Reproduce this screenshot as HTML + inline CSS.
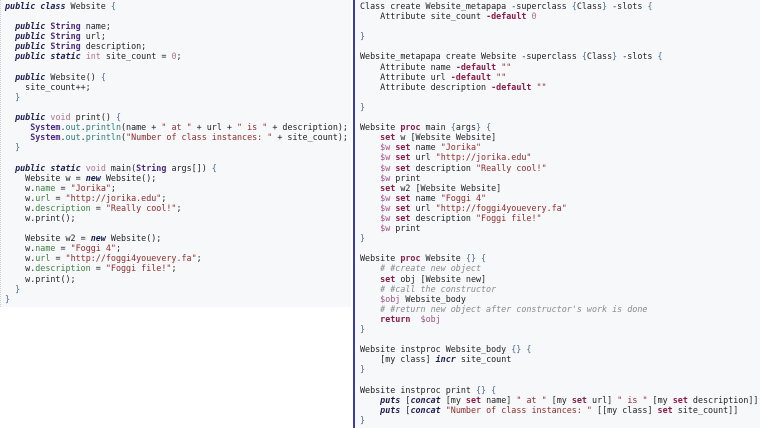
<!DOCTYPE html>
<html><head><meta charset="utf-8"><style>
html,body{margin:0;padding:0;width:760px;height:428px;overflow:hidden;background:#fff}
pre{margin:0;font-family:"DejaVu Sans Mono","Liberation Mono",monospace;font-size:8.4px;line-height:10.1px;color:#222;position:absolute;white-space:pre}
#l{left:0;top:0;width:351px;height:307px;background:#f6f8fa;border-left:1px dotted #ccd;padding:1px 0 0 4px;box-sizing:border-box}
#r{left:353px;top:0;width:407px;height:428px;background:#f7f8fa;border-left:2px solid #3c3cae;padding:1px 0 0 5px;box-sizing:border-box}
.k{font-weight:bold;font-style:italic;color:#1c1c50}
.t{font-weight:bold;color:#4a2a80}
.p{color:#b0708e}
.s{color:#8e2a2a}
.f{color:#3f7f3f}
.o{color:#2a7a7a}
.b{color:#4a6a90}
.r{font-weight:bold;color:#8a1c48}
.v{color:#a0508a}
.c{font-style:italic;color:#8a8a8a}
</style></head><body>
<pre id="l"><span class="k">public class</span> Website <span class="b">{</span>

  <span class="k">public</span> <span class="t">String</span> name;
  <span class="k">public</span> <span class="t">String</span> url;
  <span class="k">public</span> <span class="t">String</span> description;
  <span class="k">public static</span> <span class="p">int</span> site_count = <span class="p">0</span>;

  <span class="k">public</span> Website() <span class="b">{</span>
    site_count++;
  <span class="b">}</span>

  <span class="k">public</span> <span class="p">void</span> print() <span class="b">{</span>
     <span class="t">System</span>.<span class="o">out</span>.<span class="o">println</span>(name + <span class="s">" at "</span> + url + <span class="s">" is "</span> + description);
     <span class="t">System</span>.<span class="o">out</span>.<span class="o">println</span>(<span class="s">"Number of class instances: "</span> + site_count);
  <span class="b">}</span>

  <span class="k">public static</span> <span class="p">void</span> main(<span class="t">String</span> args[]) <span class="b">{</span>
    Website w = <span class="k">new</span> Website();
    w.<span class="f">name</span> = <span class="s">"Jorika"</span>;
    w.<span class="f">url</span> = <span class="s">"http://jorika.edu"</span>;
    w.<span class="f">description</span> = <span class="s">"Really cool!"</span>;
    w.print();

    Website w2 = <span class="k">new</span> Website();
    w.<span class="f">name</span> = <span class="s">"Foggi 4"</span>;
    w.<span class="f">url</span> = <span class="s">"http://foggi4youevery.fa"</span>;
    w.<span class="f">description</span> = <span class="s">"Foggi file!"</span>;
    w.print();
  <span class="b">}</span>
<span class="b">}</span></pre>
<pre id="r">Class create Website_metapapa -superclass <span class="b">{</span>Class<span class="b">}</span> -slots <span class="b">{</span>
    Attribute site_count <span class="r">-default</span> <span class="p">0</span>

<span class="b">}</span>

Website_metapapa create Website -superclass <span class="b">{</span>Class<span class="b">}</span> -slots <span class="b">{</span>
    Attribute name <span class="r">-default</span> <span class="s">""</span>
    Attribute url <span class="r">-default</span> <span class="s">""</span>
    Attribute description <span class="r">-default</span> <span class="s">""</span>

<span class="b">}</span>

Website <span class="r">proc</span> main <span class="b">{</span>args<span class="b">}</span> <span class="b">{</span>
    <span class="r">set</span> w [Website Website]
    <span class="v">$w</span> <span class="r">set</span> name <span class="s">"Jorika"</span>
    <span class="v">$w</span> <span class="r">set</span> url <span class="s">"http://jorika.edu"</span>
    <span class="v">$w</span> <span class="r">set</span> description <span class="s">"Really cool!"</span>
    <span class="v">$w</span> print
    <span class="r">set</span> w2 [Website Website]
    <span class="v">$w</span> <span class="r">set</span> name <span class="s">"Foggi 4"</span>
    <span class="v">$w</span> <span class="r">set</span> url <span class="s">"http://foggi4youevery.fa"</span>
    <span class="v">$w</span> <span class="r">set</span> description <span class="s">"Foggi file!"</span>
    <span class="v">$w</span> print
<span class="b">}</span>

Website <span class="r">proc</span> Website <span class="b">{}</span> <span class="b">{</span>
    <span class="c"># #create new object</span>
    <span class="r">set</span> obj [Website new]
    <span class="c"># #call the constructor</span>
    <span class="v">$obj</span> Website_body
    <span class="c"># #return new object after constructor's work is done</span>
    <span class="r">return</span>  <span class="v">$obj</span>
<span class="b">}</span>

Website instproc Website_body <span class="b">{}</span> <span class="b">{</span>
    [my class] <span class="k">incr</span> site_count
<span class="b">}</span>

Website instproc print <span class="b">{}</span> <span class="b">{</span>
    <span class="k">puts</span> [<span class="k">concat</span> [my <span class="r">set</span> name] <span class="s">" at "</span> [my <span class="r">set</span> url] <span class="s">" is "</span> [my <span class="r">set</span> description]]
    <span class="k">puts</span> [<span class="k">concat</span> <span class="s">"Number of class instances: "</span> [[my class] <span class="r">set</span> site_count]]
<span class="b">}</span></pre>
</body></html>
